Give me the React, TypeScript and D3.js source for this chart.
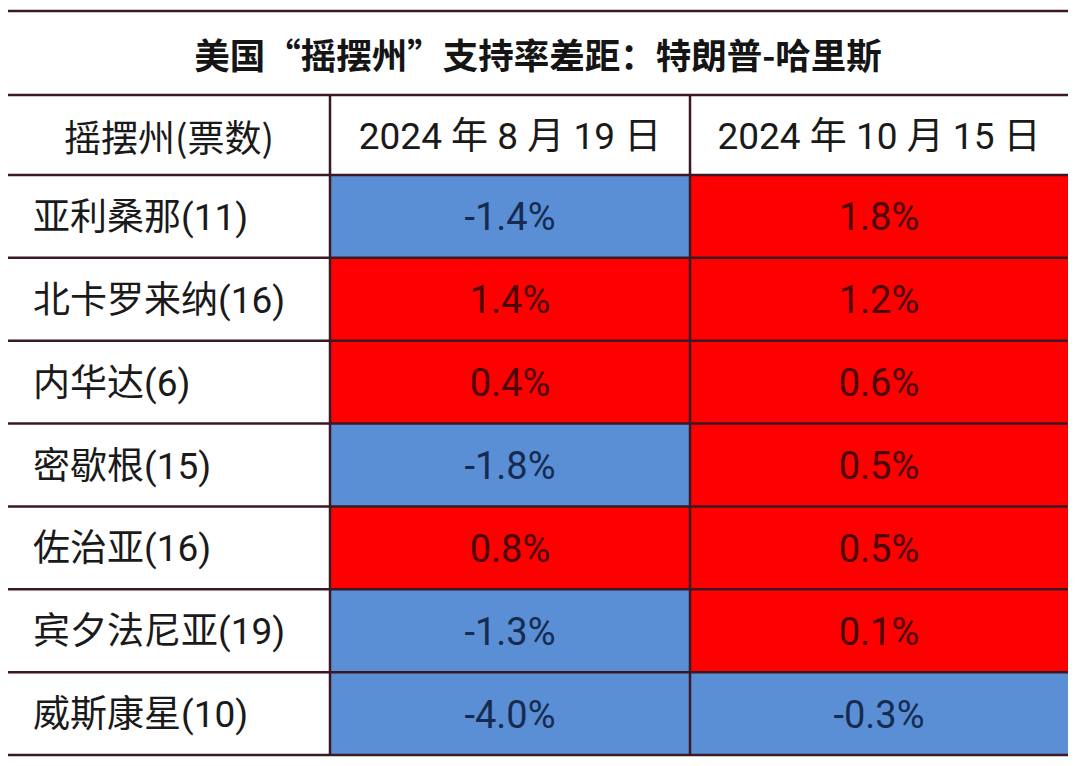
import React from "react";
import * as d3 from "d3";

const title = "美国“摇摆州”支持率差距：特朗普-哈里斯";
const headerLabels = ["摇摆州(票数)", "2024 年 8 月 19 日", "2024 年 10 月 15 日"];
const states = ["亚利桑那(11)", "北卡罗来纳(16)", "内华达(6)", "密歇根(15)", "佐治亚(16)", "宾夕法尼亚(19)", "威斯康星(10)"];
const aug19 = [-1.4, 1.4, 0.4, -1.8, 0.8, -1.3, -4.0];
const oct15 = [1.8, 1.2, 0.6, 0.5, 0.5, 0.1, -0.3];

const W = 1080;
const H = 766;
const left = 8;
const right = 1068;
const topY = 11;
const headerTop = 95;
const bodyTop = 175;
const bottom = 755;
const colEdges = [left, 330, 690, right];

const BLUE = "#5A8FD6";
const RED = "#FF0000";
const LINE = "#3a1824";
const CJK = "'Noto Sans CJK SC', 'Noto Sans', sans-serif";
const NUM = "Roboto, 'Noto Sans', sans-serif";

export default function App() {
  const y = d3.scaleBand<number>().domain(d3.range(states.length)).range([bodyTop, bottom]).padding(0);
  const cols = [aug19, oct15];
  const fmt = (v: number) => `${v.toFixed(1)}%`;
  const hLines = [topY, headerTop, bodyTop, ...d3.range(1, states.length).map((i) => y(i)!), bottom];
  return (
    <svg width={W} height={H} style={{ position: "absolute", left: 0, top: 0, background: "#fff" }}>
      <rect x={0} y={0} width={W} height={H} fill="#fff" />
      {cols.map((series, ci) =>
        series.map((v, ri) => (
          <rect
            key={`c${ci}-${ri}`}
            x={colEdges[ci + 1]}
            y={y(ri)!}
            width={colEdges[ci + 2] - colEdges[ci + 1]}
            height={y.bandwidth()}
            fill={v >= 0 ? RED : BLUE}
          />
        ))
      )}
      <text x={538} y={53} textAnchor="middle" dominantBaseline="central" fontFamily={CJK} fontWeight={700} fontSize={35.5} fill="#151515">
        {title}
      </text>
      {headerLabels.map((h, i) => (
        <text
          key={h}
          x={(colEdges[i] + colEdges[i + 1]) / 2}
          y={(headerTop + bodyTop) / 2 + 1}
          textAnchor="middle"
          dominantBaseline="central"
          fontFamily={i === 0 ? CJK : `Roboto, ${CJK}`}
          fontSize={37}
          fill="#1a1a1a"
        >
          {h}
        </text>
      ))}
      {states.map((s, ri) => (
        <text
          key={s}
          x={33}
          y={y(ri)! + y.bandwidth() / 2 + 1}
          dominantBaseline="central"
          fontFamily={`Roboto, ${CJK}`}
          fontSize={37}
          fill="#1a1a1a"
        >
          {s}
        </text>
      ))}
      {cols.map((series, ci) =>
        series.map((v, ri) => (
          <text
            key={`t${ci}-${ri}`}
            x={(colEdges[ci + 1] + colEdges[ci + 2]) / 2}
            y={y(ri)! + y.bandwidth() / 2 + 1}
            textAnchor="middle"
            dominantBaseline="central"
            fontFamily={NUM}
            fontSize={38}
            fill={v >= 0 ? "#4a0505" : "#172b50"}
          >
            {fmt(v)}
          </text>
        ))
      )}
      {hLines.map((yy, i) => (
        <line key={`h${i}`} x1={left} x2={right} y1={yy} y2={yy} stroke={LINE} strokeWidth={2.5} />
      ))}
      {[colEdges[1], colEdges[2]].map((xx, i) => (
        <line key={`v${i}`} x1={xx} x2={xx} y1={headerTop} y2={bottom} stroke={LINE} strokeWidth={2.5} />
      ))}
    </svg>
  );
}
